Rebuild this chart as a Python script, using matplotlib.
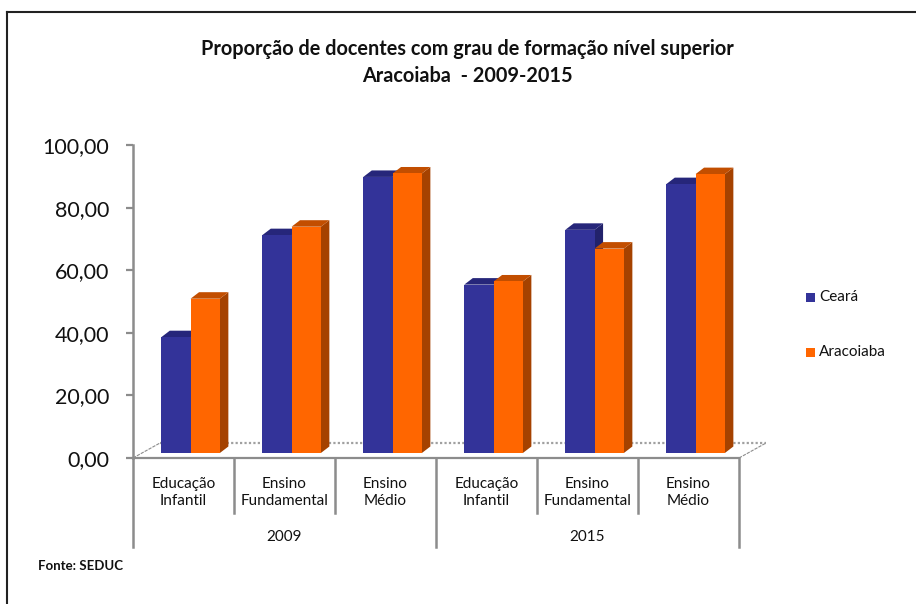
import matplotlib
matplotlib.use("Agg")
import matplotlib.pyplot as plt
from matplotlib.patches import Polygon, Rectangle
from matplotlib.lines import Line2D

# ---------------- data ----------------
categories = ["Educação\nInfantil", "Ensino\nFundamental", "Ensino\nMédio",
              "Educação\nInfantil", "Ensino\nFundamental", "Ensino\nMédio"]
groups = ["2009", "2015"]
series_names = ["Ceará", "Aracoiaba"]
ceara = [37.0, 69.6, 88.2, 53.8, 71.3, 85.9]
aracoiaba = [49.3, 72.3, 89.3, 54.8, 65.3, 89.1]
yticks = [0, 20, 40, 60, 80, 100]
yticklabels = ["0,00", "20,00", "40,00", "60,00", "80,00", "100,00"]
title_lines = ["Proporção de docentes com grau de formação nível superior",
               "Aracoiaba  - 2009-2015"]
source = "Fonte: SEDUC"

# ---------------- style ----------------
W, H = 916, 604
FONT = "Lato"

front_c = ["#333399", "#FF6600"]
top_c = ["#26267A", "#C24E00"]
side_c = ["#22226B", "#A54200"]
grey = "#8C8C8C"

fig = plt.figure(figsize=(W / 100, H / 100), dpi=100)
fig.patch.set_facecolor("white")

def fx(px):
    return px / W

def fy(py):
    return 1 - py / H

# axes: x 133..739 px, y 0 at 458, 100 at 145
ax_l, ax_r, ax_b, ax_t = 133, 739, 458, 145
ax = fig.add_axes([fx(ax_l), fy(ax_b), fx(ax_r - ax_l), (ax_b - ax_t) / H])
ax.set_xlim(0, 6)
ax.set_ylim(0, 100)
ax.patch.set_alpha(0)
for s in ax.spines.values():
    s.set_visible(False)

px_x = (ax_r - ax_l) / 6.0      # pixels per x unit
px_y = (ax_b - ax_t) / 100.0    # pixels per y unit

# floor (3D depth)
fdx, fdy = 27 / px_x, 15 / px_y
ax.add_line(Line2D([0, 6], [0, 0], color=grey, lw=1.6, clip_on=False, zorder=1))
ax.add_line(Line2D([0, fdx], [0, fdy], color=grey, lw=0.8, ls=(0, (3, 1)), clip_on=False, zorder=1))
ax.add_line(Line2D([6, 6 + fdx], [0, fdy], color=grey, lw=0.8, ls=(0, (3, 1)), clip_on=False, zorder=1))
ax.add_line(Line2D([fdx, 6 + fdx], [fdy, fdy], color="#A0A0A0", lw=1.6, ls=(0, (1, 1)), clip_on=False, zorder=1))

# y axis line + ticks
ax.add_line(Line2D([0, 0], [0, 100], color=grey, lw=1.8, clip_on=False, zorder=2))
ax.set_yticks(yticks)
ax.set_yticklabels(yticklabels, fontsize=15.5, family=FONT, color="#111111")
ax.tick_params(axis="y", direction="out", length=5, width=1.6, color=grey, pad=12)
ax.set_xticks([])

# bars
bw = 0.29
ddx, ddy = 8.5 / px_x, 6.5 / px_y
b0 = 5 / px_y
for i in range(len(categories)):
    center = i + 0.5 + 0.07
    for k, vals in enumerate([ceara, aracoiaba]):
        x0 = center - bw + k * bw
        v = vals[i]
        top = b0 + v
        z = 3 + k * 3
        ax.bar(x0, v, width=bw, bottom=b0, align="edge", color=front_c[k],
               edgecolor="none", zorder=z + 2, clip_on=False)
        ax.add_patch(Polygon([(x0, top), (x0 + bw, top), (x0 + bw + ddx, top + ddy),
                              (x0 + ddx, top + ddy)], closed=True, facecolor=top_c[k],
                             edgecolor="none", zorder=z + 1, clip_on=False))
        ax.add_patch(Polygon([(x0 + bw, b0), (x0 + bw + ddx, b0 + ddy),
                              (x0 + bw + ddx, top + ddy), (x0 + bw, top)], closed=True,
                             facecolor=side_c[k], edgecolor="none", zorder=z, clip_on=False))

# category separators and labels (below axis)
tr = ax.get_xaxis_transform()
for j in range(7):
    long_sep = j % 3 == 0
    y_end = (ax_b - (547 if long_sep else 513)) / (ax_b - ax_t)
    ax.add_line(Line2D([j, j], [0, y_end], color=grey, lw=1.8, transform=tr, clip_on=False))
for i, lab in enumerate(categories):
    ax.text(i + 0.5, (ax_b - 492.5) / (ax_b - ax_t), lab, transform=tr, ha="center", va="center",
            fontsize=11, family=FONT, color="#111111", linespacing=1.25)
for g, lab in enumerate(groups):
    ax.text(g * 3 + 1.5, (ax_b - 537) / (ax_b - ax_t), lab, transform=tr, ha="center",
            va="center", fontsize=11, family=FONT, color="#111111")

# title
fig.text(fx(467), fy(49), title_lines[0], ha="center", va="center", fontsize=14.3,
         fontweight="bold", family=FONT, color="#111111")
fig.text(fx(467), fy(76), title_lines[1], ha="center", va="center", fontsize=14.3,
         fontweight="bold", family=FONT, color="#111111")

# legend
leg_y = [297, 352]
for k, name in enumerate(series_names):
    fig.patches.append(Rectangle((fx(806), fy(leg_y[k] + 5)), fx(9), 9 / H,
                                 transform=fig.transFigure, facecolor=front_c[k],
                                 edgecolor="none"))
    fig.text(fx(819), fy(leg_y[k]), name, ha="left", va="center", fontsize=11,
             family=FONT, color="#111111")

# source
fig.text(fx(38), fy(566), source, ha="left", va="center", fontsize=9.5,
         fontweight="bold", family=FONT, color="#111111")

# chart border
fig.add_artist(Line2D([fx(7), fx(7)], [fy(12), 0], transform=fig.transFigure,
                      color="#222222", lw=1.5))
fig.add_artist(Line2D([fx(7), 1], [fy(12), fy(12)], transform=fig.transFigure,
                      color="#222222", lw=1.5))

fig.savefig("out.png", dpi=100)
